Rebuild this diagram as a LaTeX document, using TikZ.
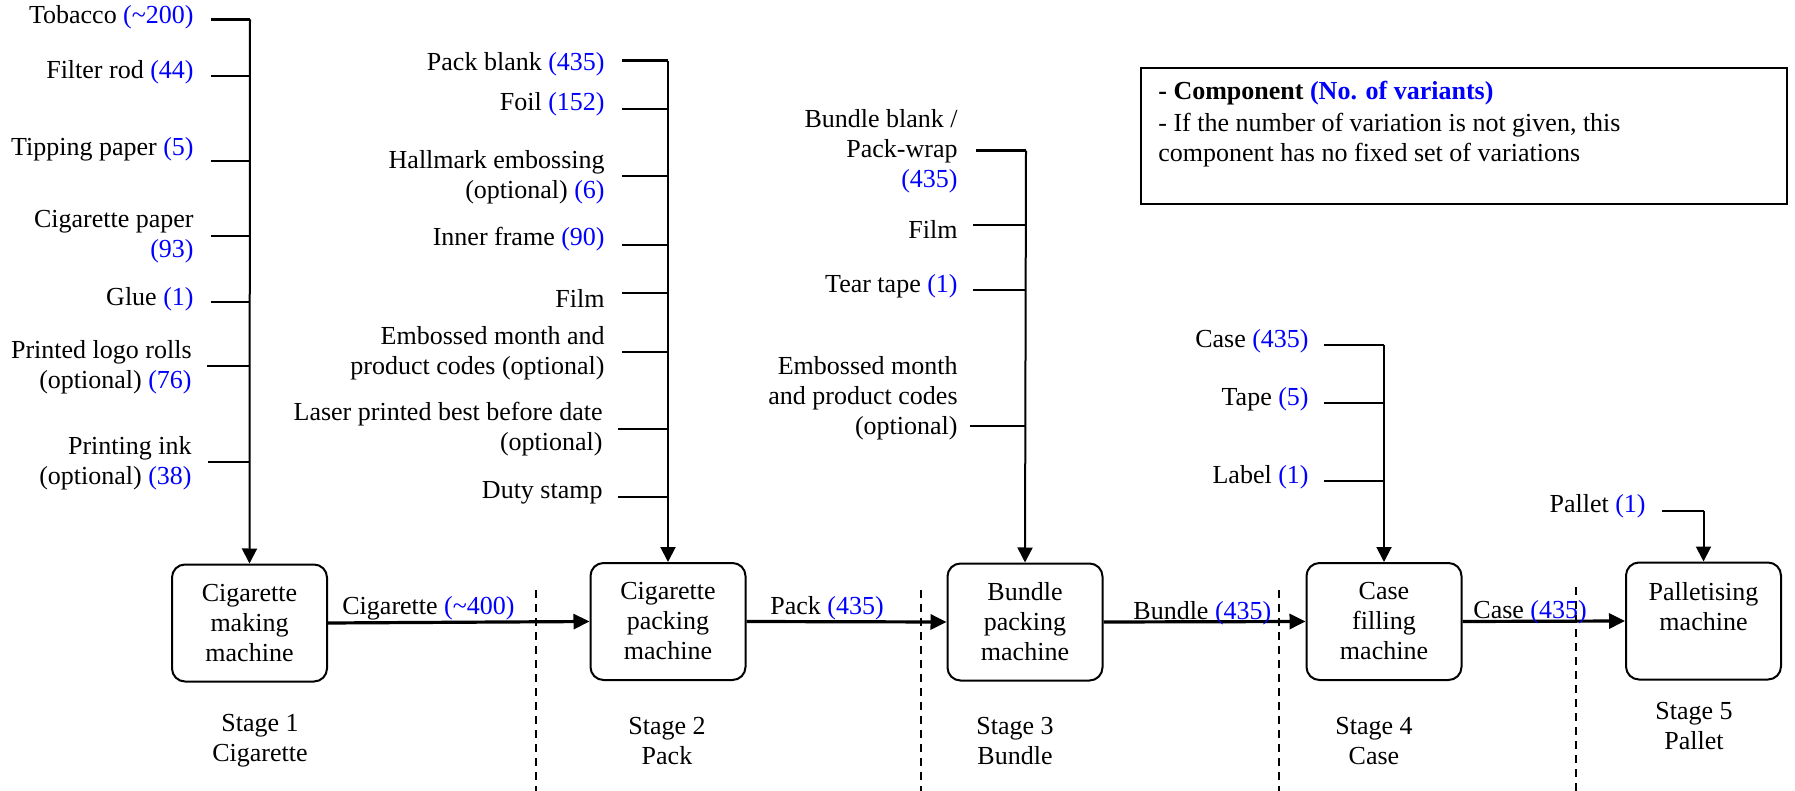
\documentclass[tikz,border=0pt]{standalone}
\usepackage{fontspec}
\setmainfont{Liberation Serif}
\usetikzlibrary{arrows.meta}
\newcommand\nv[1]{\textcolor{blue}{(#1)}}
\begin{document}
\begin{tikzpicture}[x=0.5pt,y=-0.5pt, font=\fontsize{13}{15}\selectfont,
  lbl/.style={anchor=east, align=right, inner sep=0pt},
  tick/.style={line width=1.2pt},
  feed/.style={line width=1pt,-{Triangle[length=7.5pt,width=7.5pt]}},
  flow/.style={line width=1.6pt,-{Triangle[length=8pt,width=7.5pt]}},
  machine/.style={draw, line width=1pt, rounded corners=6.5pt, minimum width=77.5pt, minimum height=58.5pt, align=center, inner sep=0pt},
  flowlbl/.style={anchor=west, inner sep=0pt},
  stagelbl/.style={align=center, inner sep=0pt},
  divider/.style={dash pattern=on 4pt off 3pt, line width=0.6pt}]
\useasboundingbox (0,0) rectangle (1795,791);

% machines
\node[machine] (m1) at (249.5,623) {Cigarette\\making\\machine};
\node[machine] (m2) at (668,621.5) {Cigarette\\packing\\machine};
\node[machine] (m3) at (1025,622) {Bundle\\packing\\machine};
\node[machine] (m4) at (1384,621.5) {Case\\filling\\machine};
\node[machine] (m5) at (1703.5,621) {Palletising\\machine\\\mbox{}};

% flows
\draw[flow] (m1.east) -- (m2.west);
\draw[flow] (m2.east) -- (m3.west);
\draw[flow] (m3.east) -- (m4.west);
\draw[flow] (m4.east) -- (m5.west);
\node[flowlbl] (f1) at (342,608) {Cigarette \nv{\textasciitilde400}};
\node[flowlbl] (f2) at (770,608) {Pack \nv{435}};
\node[flowlbl] (f3) at (1133,613) {Bundle \nv{435}};
\node[flowlbl] (f4) at (1473,612) {Case \nv{435}};

% dividers
\coordinate (d1t) at (536,590); \coordinate (d1b) at (536,791);
\coordinate (d2t) at (921,590); \coordinate (d2b) at (921,791);
\coordinate (d3t) at (1279,590); \coordinate (d3b) at (1279,791);
\coordinate (d4t) at (1576,587); \coordinate (d4b) at (1576,791);
\draw[divider] (d1t) -- (d1b);
\draw[divider] (d2t) -- (d2b);
\draw[divider] (d3t) -- (d3b);
\draw[divider] (d4t) -- (d4b);

% stage labels
\node[stagelbl] (s1) at (260,741) {Stage 1\\Cigarette};
\node[stagelbl] (s2) at (667,741) {Stage 2\\Pack};
\node[stagelbl] (s3) at (1015,741) {Stage 3\\Bundle};
\node[stagelbl] (s4) at (1374,741) {Stage 4\\Case};
\node[stagelbl] (s5) at (1694,726) {Stage 5\\Pallet};

% Stage 1 components
\node[lbl] (a1) at (194,17) {Tobacco \nv{\textasciitilde200}};
\node[lbl] (a2) at (194,72) {Filter rod \nv{44}};
\node[lbl] (a3) at (194,149) {Tipping paper \nv{5}};
\node[lbl] (a4) at (194,237) {Cigarette paper\\\nv{93}};
\node[lbl] (a5) at (194,299) {Glue \nv{1}};
\node[lbl] (a6) at (192,367) {Printed logo rolls\\(optional) \nv{76}};
\node[lbl] (a7) at (192,463) {Printing ink\\(optional) \nv{38}};
\coordinate (b1) at (250,19.5);
\coordinate (b2) at (250,76);
\coordinate (b3) at (250,161);
\coordinate (b4) at (250,236);
\coordinate (b5) at (250,302);
\coordinate (b6) at (250,366);
\coordinate (b7) at (250,462);
\draw[tick] (211,19.5) -- (b1);
\draw[tick] (211,76) -- (b2);
\draw[tick] (211,161) -- (b3);
\draw[tick] (211,236) -- (b4);
\draw[tick] (211,302) -- (b5);
\draw[tick] (207,366) -- (b6);
\draw[tick] (208,462) -- (b7);
\draw[feed] (b1) -- (m1.north);

% Stage 2 components
\node[lbl] (p1) at (605,64) {Pack blank \nv{435}};
\node[lbl] (p2) at (605,104) {Foil \nv{152}};
\node[lbl] (p3) at (605,177) {Hallmark embossing\\(optional) \nv{6}};
\node[lbl] (p4) at (605,239) {Inner frame \nv{90}};
\node[lbl] (p5) at (605,298) {Film};
\node[lbl] (p6) at (605,353) {Embossed month and\\product codes (optional)};
\node[lbl] (p7) at (603,429) {Laser printed best before date\\(optional)};
\node[lbl] (p8) at (603,493) {Duty stamp};
\coordinate (q1) at (668,60.7);
\coordinate (q2) at (668,109);
\coordinate (q3) at (668,176);
\coordinate (q4) at (668,245);
\coordinate (q5) at (668,293);
\coordinate (q6) at (668,352);
\coordinate (q7) at (668,429);
\coordinate (q8) at (668,497);
\draw[tick] (622,60.7) -- (q1);
\draw[tick] (622,109) -- (q2);
\draw[tick] (622,176) -- (q3);
\draw[tick] (622,245) -- (q4);
\draw[tick] (622,293) -- (q5);
\draw[tick] (622,352) -- (q6);
\draw[tick] (618,429) -- (q7);
\draw[tick] (618,497) -- (q8);
\draw[feed] (q1) -- (m2.north);

% Stage 3 components
\node[lbl] (u1) at (958,151) {Bundle blank /\\Pack-wrap\\\nv{435}};
\node[lbl] (u2) at (958,229) {Film};
\node[lbl] (u3) at (958,286) {Tear tape \nv{1}};
\node[lbl] (u4) at (958,398) {Embossed month\\and product codes\\(optional)};
\coordinate (v1) at (1026,150.7);
\coordinate (v2) at (1026,225);
\coordinate (v3) at (1026,290);
\coordinate (v4) at (1026,426);
\draw[tick] (976,150.7) -- (v1);
\draw[tick] (973,225) -- (v2);
\draw[tick] (973,290) -- (v3);
\draw[tick] (970,426) -- (v4);
\draw[feed] (v1) -- (m3.north);

% Stage 4 components
\node[lbl] (c1) at (1309,341) {Case \nv{435}};
\node[lbl] (c2) at (1309,399) {Tape \nv{5}};
\node[lbl] (c3) at (1309,477) {Label \nv{1}};
\coordinate (e1) at (1384,345);
\coordinate (e2) at (1384,403);
\coordinate (e3) at (1384,481);
\draw[tick] (1324,345) -- (e1);
\draw[tick] (1324,403) -- (e2);
\draw[tick] (1324,481) -- (e3);
\draw[feed] (e1) -- (m4.north);

% Stage 5 component
\node[lbl] (g1) at (1646,506) {Pallet \nv{1}};
\coordinate (h0) at (1662,511);
\coordinate (h1) at (1703.5,511);
\draw[tick] (h0) -- (h1);
\draw[feed] (h1) -- (m5.north);

% legend
\node[draw, line width=1pt, minimum width=323pt, minimum height=68pt, inner sep=0pt] (leg) at (1464,136) {};
\node[anchor=west, align=left, inner sep=0pt] (legt) at (1158,124)
  {\textbf{- Component \textcolor{blue}{(No. of variants)}}\\[1pt]- If the number of variation is not given, this\\component has no fixed set of variations};
\end{tikzpicture}
\end{document}
